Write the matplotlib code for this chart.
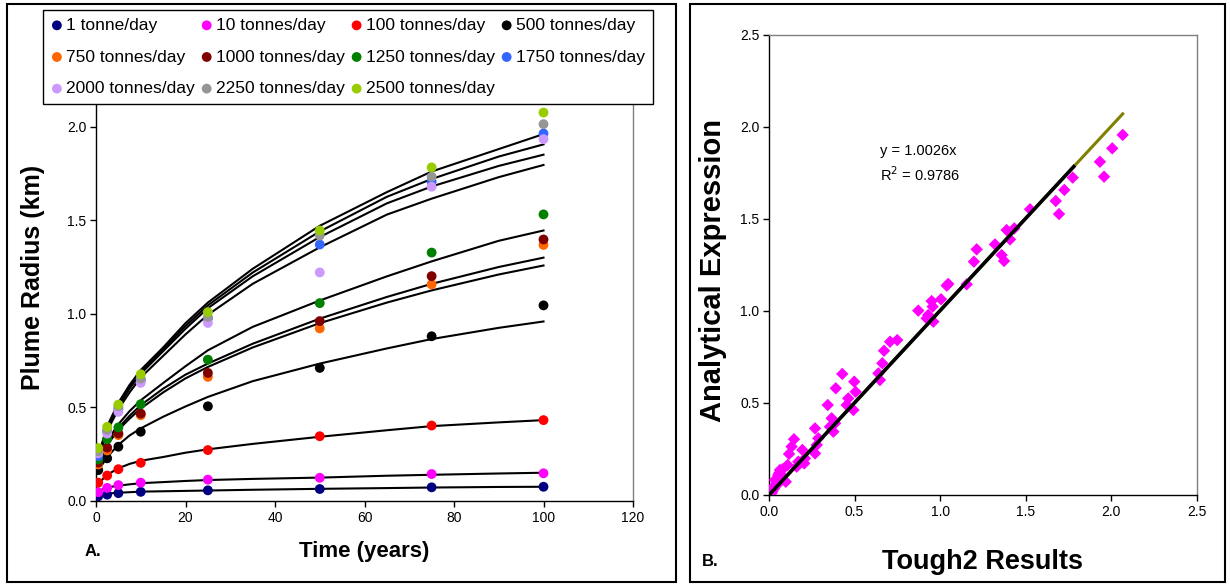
import matplotlib
matplotlib.use("Agg")
import matplotlib.pyplot as plt
from matplotlib.patches import Rectangle
from matplotlib.ticker import FormatStrFormatter, MultipleLocator

plt.rcParams["font.family"] = ["Liberation Sans", "DejaVu Sans"]

# ---- panel A: plume radius vs time, TOUGH2 points and analytical curves ----
rates = ["1 tonne/day", "10 tonnes/day", "100 tonnes/day", "500 tonnes/day",
         "750 tonnes/day", "1000 tonnes/day", "1250 tonnes/day", "1750 tonnes/day",
         "2000 tonnes/day", "2250 tonnes/day", "2500 tonnes/day"]
colors = ["#000080", "#FF00FF", "#FF0000", "#000000", "#FF6600", "#800000",
          "#008000", "#3366FF", "#CC99FF", "#969696", "#99CC00"]

t_sim = [0.5, 2.5, 5, 10, 25, 50, 75, 100]
r_sim = [
    [0.025, 0.034, 0.042, 0.049, 0.057, 0.064, 0.073, 0.076],
    [0.047, 0.070, 0.085, 0.098, 0.114, 0.124, 0.144, 0.148],
    [0.098, 0.136, 0.170, 0.204, 0.272, 0.346, 0.403, 0.432],
    [0.165, 0.228, 0.290, 0.370, 0.506, 0.711, 0.880, 1.045],
    [0.195, 0.270, 0.352, 0.458, 0.663, 0.922, 1.157, 1.368],
    [0.205, 0.285, 0.361, 0.467, 0.684, 0.961, 1.201, 1.397],
    [0.222, 0.330, 0.393, 0.517, 0.755, 1.057, 1.327, 1.531],
    [0.240, 0.370, 0.494, 0.645, 0.974, 1.370, 1.706, 1.963],
    [0.255, 0.360, 0.476, 0.631, 0.951, 1.221, 1.679, 1.933],
    [0.265, 0.380, 0.506, 0.654, 0.983, 1.418, 1.732, 2.013],
    [0.283, 0.396, 0.515, 0.677, 1.009, 1.445, 1.782, 2.075],
]

t_curve = [0.5, 1, 2.5, 5, 7.5, 10, 15, 20, 25, 35, 50, 65, 75, 90, 100]
r_curve = [
    [0.030, 0.034, 0.040, 0.044, 0.047, 0.050, 0.052, 0.054, 0.056, 0.060, 0.065, 0.069, 0.072, 0.075, 0.076],
    [0.050, 0.058, 0.072, 0.082, 0.089, 0.095, 0.101, 0.107, 0.112, 0.118, 0.125, 0.135, 0.140, 0.147, 0.151],
    [0.090, 0.105, 0.140, 0.175, 0.198, 0.215, 0.235, 0.258, 0.276, 0.305, 0.343, 0.378, 0.400, 0.420, 0.432],
    [0.155, 0.180, 0.235, 0.300, 0.350, 0.388, 0.450, 0.505, 0.556, 0.640, 0.734, 0.815, 0.865, 0.925, 0.959],
    [0.185, 0.220, 0.300, 0.380, 0.440, 0.494, 0.580, 0.655, 0.716, 0.820, 0.950, 1.060, 1.125, 1.210, 1.258],
    [0.190, 0.225, 0.305, 0.390, 0.455, 0.512, 0.600, 0.675, 0.734, 0.840, 0.974, 1.090, 1.160, 1.250, 1.300],
    [0.200, 0.235, 0.320, 0.410, 0.480, 0.538, 0.630, 0.720, 0.805, 0.930, 1.071, 1.200, 1.280, 1.390, 1.445],
    [0.225, 0.260, 0.375, 0.490, 0.580, 0.660, 0.775, 0.890, 0.995, 1.160, 1.355, 1.530, 1.615, 1.730, 1.795],
    [0.230, 0.270, 0.385, 0.505, 0.600, 0.680, 0.800, 0.920, 1.030, 1.200, 1.410, 1.590, 1.680, 1.790, 1.850],
    [0.235, 0.275, 0.390, 0.515, 0.610, 0.690, 0.810, 0.935, 1.045, 1.220, 1.440, 1.625, 1.720, 1.840, 1.905],
    [0.240, 0.280, 0.400, 0.525, 0.620, 0.700, 0.820, 0.950, 1.060, 1.240, 1.470, 1.650, 1.760, 1.880, 1.960],
]

# ---- panel B: analytical expression vs TOUGH2 results ----
tough2 = [2.066, 2.005, 1.933, 1.957, 1.774, 1.725, 1.675, 1.694, 1.525, 1.433,
          1.388, 1.408, 1.320, 1.359, 1.373, 1.213, 1.197, 1.155, 1.047, 1.038,
          1.005, 0.950, 0.956, 0.872, 0.930, 0.960, 0.921,
          0.749, 0.707, 0.672, 0.662, 0.639, 0.648, 0.428, 0.390, 0.498, 0.506,
          0.463, 0.454, 0.493, 0.343, 0.366, 0.386, 0.356, 0.376, 0.269, 0.288,
          0.279, 0.269, 0.146, 0.132, 0.117, 0.195, 0.210, 0.206, 0.171, 0.109,
          0.162, 0.064, 0.054, 0.098, 0.035, 0.025, 0.006, 0.045,
          0.020, 0.030, 0.050, 0.040, 0.070, 0.080, 0.060, 0.015]
analytical = [1.957, 1.884, 1.811, 1.730, 1.725, 1.658, 1.598, 1.527, 1.553, 1.449,
              1.440, 1.389, 1.362, 1.304, 1.272, 1.335, 1.268, 1.145, 1.147, 1.138,
              1.064, 1.054, 1.024, 1.002, 0.978, 0.942, 0.960,
              0.842, 0.833, 0.784, 0.716, 0.661, 0.625, 0.658, 0.580, 0.616, 0.561,
              0.525, 0.489, 0.462, 0.489, 0.417, 0.390, 0.371, 0.344, 0.362, 0.308,
              0.272, 0.226, 0.303, 0.263, 0.223, 0.245, 0.199, 0.172, 0.181, 0.163,
              0.154, 0.136, 0.109, 0.072, 0.082, 0.045, 0.018, 0.054,
              0.020, 0.035, 0.060, 0.080, 0.110, 0.140, 0.120, 0.010]
trend_slope = 1.0026
r_squared = 0.9786
fit_end = 1.78

W, H = 1230, 586
fig = plt.figure(figsize=(W / 100, H / 100), dpi=100)


def fig_rect(x0, y0, x1, y1):
    return [x0 / W, 1 - y1 / H, (x1 - x0) / W, (y1 - y0) / H]


def style_axes(ax):
    for side in ("left", "bottom"):
        ax.spines[side].set_color("black")
        ax.spines[side].set_linewidth(1.0)
    for side in ("top", "right"):
        ax.spines[side].set_color("#808080")
        ax.spines[side].set_linewidth(1.0)
    ax.tick_params(direction="out", length=4, width=1, labelsize=10, pad=3)


# outer frames around the two panels
for x0, x1 in [(7, 676), (690, 1225)]:
    fig.add_artist(Rectangle((x0 / W, 1 - 582 / H), (x1 - x0) / W, 578 / H,
                             transform=fig.transFigure, fill=False,
                             edgecolor="black", lw=1.5))

# panel A
ax = fig.add_axes(fig_rect(96, 33, 633, 501))
handles = []
for lab, c, rs, rc in zip(rates, colors, r_sim, r_curve):
    ax.plot(t_curve, rc, "-", color="black", lw=1.5, zorder=2)
    h = ax.scatter(t_sim, rs, s=50, color=c, edgecolors="none", zorder=3,
                   label=lab)
    handles.append(h)
ax.set_xlim(0, 120)
ax.set_ylim(0, 2.5)
ax.xaxis.set_major_locator(MultipleLocator(20))
ax.yaxis.set_major_locator(MultipleLocator(0.5))
ax.yaxis.set_major_formatter(FormatStrFormatter("%.1f"))
style_axes(ax)

# the legend sits over the top of panel A
order = [0, 4, 8, 1, 5, 9, 2, 6, 10, 3, 7]
leg = fig.legend([handles[i] for i in order], [rates[i] for i in order],
                 loc="lower left", ncol=4, mode="expand",
                 bbox_to_anchor=(43 / W, 1 - 104 / H, 610 / W, 100 / H),
                 borderaxespad=0, fontsize=12.5, frameon=True, fancybox=False,
                 edgecolor="black", framealpha=1, handletextpad=0.2,
                 handlelength=0.7, labelspacing=0.95, borderpad=0.45,
                 columnspacing=0.3, scatterpoints=1)
leg.get_frame().set_linewidth(1.0)

fig.text(33 / W, 1 - 277 / H, "Plume Radius (km)", rotation=90, ha="center",
         va="center", fontsize=18, fontweight="bold")
fig.text(364 / W, 1 - 552 / H, "Time (years)", ha="center", va="center",
         fontsize=16, fontweight="bold")
fig.text(93 / W, 1 - 551 / H, "A.", ha="center", va="center", fontsize=12,
         fontweight="bold")

# panel B
bx = fig.add_axes(fig_rect(769, 35, 1197, 495))
bx.scatter(tough2, analytical, marker="D", s=40, color="#FF00FF",
           edgecolors="none", zorder=3)
x_max = max(tough2)
bx.plot([0, x_max], [0, trend_slope * x_max], color="#808000", lw=2.2, zorder=2)
bx.plot([0, fit_end], [0, trend_slope * fit_end], color="black", lw=2.6,
        zorder=4)
bx.set_xlim(0, 2.5)
bx.set_ylim(0, 2.5)
bx.xaxis.set_major_locator(MultipleLocator(0.5))
bx.yaxis.set_major_locator(MultipleLocator(0.5))
bx.xaxis.set_major_formatter(FormatStrFormatter("%.1f"))
bx.yaxis.set_major_formatter(FormatStrFormatter("%.1f"))
style_axes(bx)
bx.text(0.65, 1.80, f"y = {trend_slope:.4f}x\nR$^2$ = {r_squared:.4f}",
        fontsize=10.5, ha="left", va="center", linespacing=1.5)

fig.text(713 / W, 1 - 270 / H, "Analytical Expression", rotation=90,
         ha="center", va="center", fontsize=21, fontweight="bold")
fig.text(982 / W, 1 - 562 / H, "Tough2 Results", ha="center", va="center",
         fontsize=19.5, fontweight="bold")
fig.text(710 / W, 1 - 561 / H, "B.", ha="center", va="center", fontsize=12,
         fontweight="bold")

fig.savefig("out.png", dpi=100)
